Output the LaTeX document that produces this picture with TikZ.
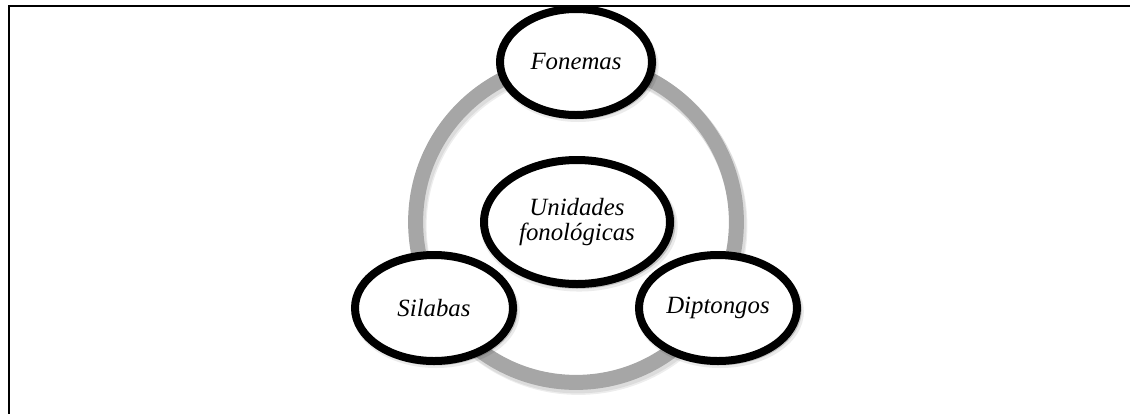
\documentclass[tikz,border=0pt]{standalone}
\usepackage{fontspec}
\setmainfont{Liberation Serif}
\usetikzlibrary{shapes.geometric,shadows}
\definecolor{ringgray}{HTML}{A6A6A6}
\tikzset{
  bubble/.style={ellipse, draw=black, line width=4pt, fill=white, inner sep=0pt,
    align=center, font=\fontsize{12.4}{12.6}\selectfont\itshape,
    drop shadow={shadow scale=1.045, shadow xshift=0.6pt, shadow yshift=-1.0pt, opacity=0.18, fill=black},
    drop shadow={shadow scale=1.06, shadow xshift=1.0pt, shadow yshift=-1.8pt, opacity=0.08, fill=black}},
  smallbubble/.style={bubble, minimum width=79pt, minimum height=53pt},
  topbubble/.style={bubble, minimum width=76pt, minimum height=53pt},
  bigbubble/.style={bubble, minimum width=93pt, minimum height=62pt},
  ring/.style={draw=ringgray, line width=7.5pt},
  ringshadow/.style={draw=black, line width=8.5pt, opacity=0.07},
  frameline/.style={draw=black, line width=1pt}
}
\begin{document}
\begin{tikzpicture}[x=0.5pt,y=-0.5pt]
  \useasboundingbox (0,0) rectangle (1130,414);
  % frame
  \coordinate (ftr) at (1130,6);
  \coordinate (ftl) at (9,6);
  \coordinate (fbl) at (9,414);
  \draw[frameline] (ftr) -- (ftl) -- (fbl);
  % ring with soft shadow
  \coordinate (c) at (576,222);
  \draw[ringshadow] ([shift={(1.5,2.5)}]c) circle[radius=80.2pt];
  \draw[ringshadow] ([shift={(2.5,4)}]c) circle[radius=80.2pt];
  \draw[ring] (c) circle[radius=80.2pt];
  % bubbles
  \node[topbubble] (fon) at (576,62) {Fonemas};
  \node[smallbubble] (sil) at (434,308) {Silabas};
  \node[smallbubble] (dip) at (718,308) {Diptongos};
  \node[bigbubble] (uni) at (577,222) {Unidades\\fonológicas};
\end{tikzpicture}
\end{document}
